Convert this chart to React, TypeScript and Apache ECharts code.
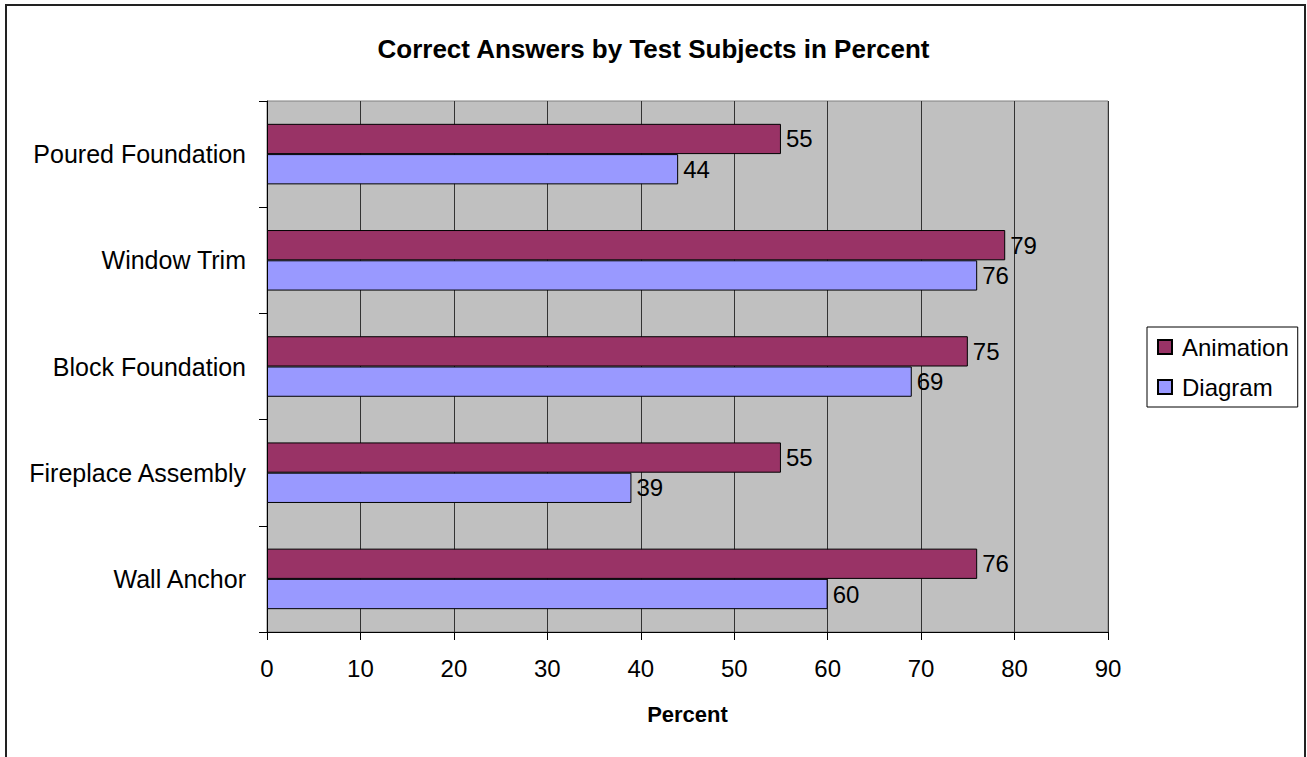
import React, { useEffect, useRef } from "react";
import * as echarts from "echarts";

const categories = ["Poured Foundation", "Window Trim", "Block Foundation", "Fireplace Assembly", "Wall Anchor"];
const animationValues = [55, 79, 75, 55, 76];
const diagramValues = [44, 76, 69, 39, 60];
const seriesNames = ["Animation", "Diagram"];

const FONT = "'Liberation Sans', Arial, sans-serif";

export default function App() {
  const ref = useRef<HTMLDivElement>(null);
  useEffect(() => {
    if (!ref.current) return;
    const chart = echarts.init(ref.current, null, { renderer: "svg" });
    const labelStyle = {
      show: true,
      position: "right" as const,
      color: "#000",
      fontSize: 24,
      fontFamily: FONT,
      distance: 5,
    };
    chart.setOption({
      animation: false,
      backgroundColor: "#fff",
      textStyle: { fontFamily: FONT },
      title: {
        text: "Correct Answers by Test Subjects in Percent",
        left: "center",
        top: 31,
        textStyle: { fontSize: 26, fontWeight: "bold", color: "#000", fontFamily: FONT },
      },
      graphic: [
        {
          type: "rect",
          shape: { x: 6, y: 5, width: 1299, height: 780 },
          style: { fill: "none", stroke: "#222", lineWidth: 2 },
          silent: true,
        },
      ],
      legend: {
        orient: "vertical",
        left: 1147,
        top: 327,
        padding: [8, 9, 8, 10],
        itemGap: 16,
        itemWidth: 14,
        itemHeight: 14,
        borderColor: "#000",
        borderWidth: 1,
        backgroundColor: "#fff",
        textStyle: { fontSize: 24, color: "#000", fontFamily: FONT, padding: [0, 0, 0, 5] },
        data: seriesNames,
        icon: "rect",
      },
      grid: {
        left: 267,
        right: 199,
        top: 101,
        bottom: 125,
        show: true,
        backgroundColor: "#C0C0C0",
        borderColor: "#808080",
        borderWidth: 1,
      },
      xAxis: {
        type: "value",
        min: 0,
        max: 90,
        interval: 10,
        name: "Percent",
        nameLocation: "middle",
        nameGap: 71,
        nameTextStyle: { fontSize: 22, fontWeight: "bold", color: "#000", fontFamily: FONT },
        axisLine: { show: true, lineStyle: { color: "#000", width: 1 } },
        axisTick: { show: true, length: 8, lineStyle: { color: "#000" } },
        axisLabel: { fontSize: 24, color: "#000", margin: 24, fontFamily: FONT },
        splitLine: { show: true, lineStyle: { color: "#333", width: 1 } },
      },
      yAxis: {
        type: "category",
        data: categories,
        inverse: true,
        axisLine: { show: true, lineStyle: { color: "#000", width: 1 } },
        axisTick: { show: true, length: 8, alignWithLabel: false, lineStyle: { color: "#000" } },
        axisLabel: { fontSize: 25, color: "#000", margin: 21, fontFamily: FONT },
        splitLine: { show: false },
      },
      series: [
        {
          name: seriesNames[0],
          type: "bar",
          data: animationValues,
          barGap: "0%",
          barCategoryGap: "43%",
          itemStyle: { color: "#993366", borderColor: "#000", borderWidth: 1 },
          label: labelStyle,
        },
        {
          name: seriesNames[1],
          type: "bar",
          data: diagramValues,
          barGap: "0%",
          barCategoryGap: "43%",
          itemStyle: { color: "#9999FF", borderColor: "#000", borderWidth: 1 },
          label: labelStyle,
        },
      ],
    });
    return () => chart.dispose();
  }, []);
  return (
    <div
      ref={ref}
      style={{ position: "fixed", left: 0, top: 0, width: 1307, height: 757 }}
    />
  );
}
